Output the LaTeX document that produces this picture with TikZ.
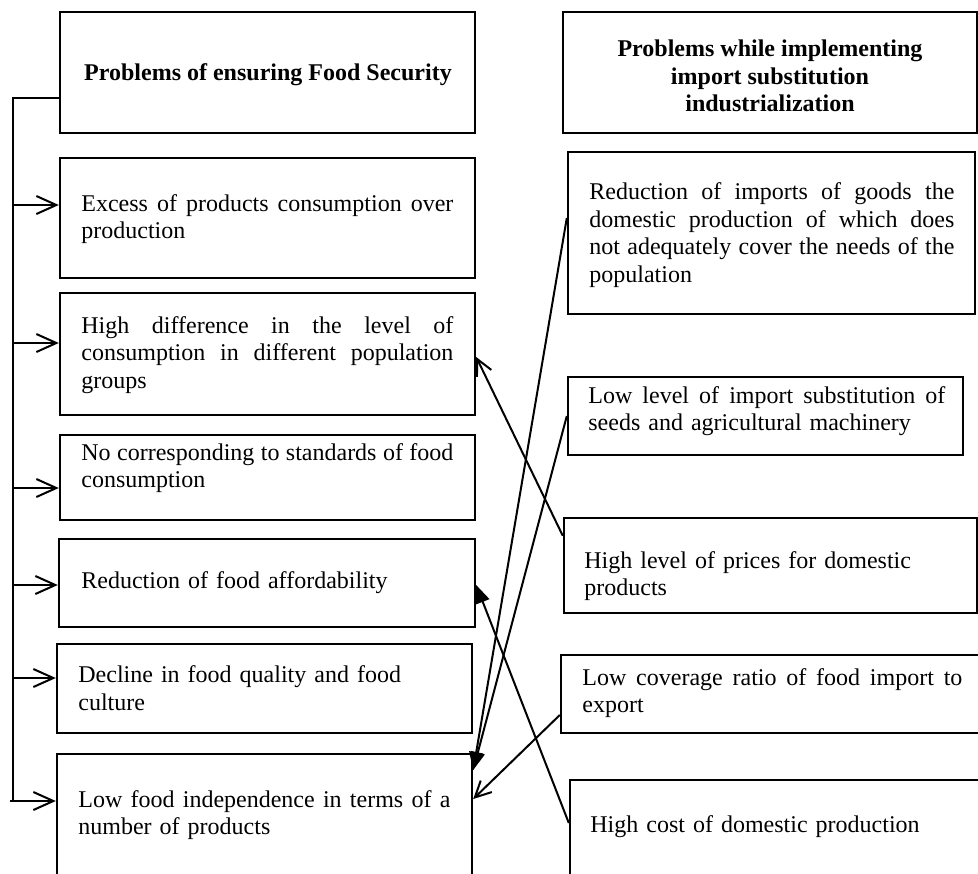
\documentclass[tikz,border=0pt]{standalone}
\usepackage{fontspec}
\setmainfont{Liberation Serif}
\usetikzlibrary{arrows.meta,calc}
\newcommand{\jl}[1]{\leavevmode\hbox to \hsize{\spaceskip=0.25em plus 1fil\relax #1}}
\begin{document}
\begin{tikzpicture}[x=0.5pt,y=-0.5pt,
  box/.style={draw, line width=1.2pt, inner sep=0pt},
  txt/.style={inner sep=0pt, align=left, anchor=west, font=\fontsize{12}{13.8}\selectfont},
  ttl/.style={inner sep=0pt, align=center, font=\fontsize{12}{13.8}\selectfont\bfseries},
  conn/.style={line width=1pt},
  spinearrow/.style={conn, -{Straight Barb[length=10pt,width=9pt]}},
  openarrow/.style={conn, -{Straight Barb[length=8pt,width=8pt]}},
  fillarrow/.style={conn, -{Triangle[length=9pt,width=7pt]}}]
\useasboundingbox (0,0) rectangle (978,873);
\fill[white] (0,0) rectangle (978,873);
\clip (0,0) rectangle (978,873);

% left column
\node[box, minimum width=207.5pt, minimum height=60.5pt] (TL) at (267.5,72.5) {};
\node[box, minimum width=207.5pt, minimum height=60pt] (B1) at (267.5,218) {};
\node[box, minimum width=207.5pt, minimum height=61pt] (B2) at (267.5,354) {};
\node[box, minimum width=207.5pt, minimum height=42.5pt] (B3) at (267.5,477.5) {};
\node[box, minimum width=208pt, minimum height=44pt] (B4) at (267,583) {};
\node[box, minimum width=207.5pt, minimum height=44.5pt] (B5) at (264.5,688.5) {};
\node[box, minimum width=207.5pt, minimum height=63pt] (B6) at (264.5,817) {};

\node[ttl] (TLt) at (268,75) {Problems of ensuring Food Security};
\node[txt, text width=186pt] (B1t) at (81,219) {\jl{Excess of products consumption over}\\production};
\node[txt, text width=186pt] (B2t) at (81,355) {\jl{High difference in the level of}\\\jl{consumption in different population}\\groups};
\node[txt, text width=186pt] (B3t) at (81,468) {\jl{No corresponding to standards of food}\\consumption};
\node[txt, text width=186pt] (B4t) at (81,583) {Reduction of food affordability};
\node[txt, text width=186pt] (B5t) at (78,688) {Decline in food quality and food\\culture};
\node[txt, text width=186pt] (B6t) at (78,815) {\jl{Low food independence in terms of a}\\number of products};

% right column
\node[box, minimum width=207pt, minimum height=60.5pt] (TR) at (770,72.5) {};
\node[box, minimum width=203.5pt, minimum height=81pt] (R1) at (771.5,233) {};
\node[box, minimum width=197.5pt, minimum height=39pt] (R2) at (765.5,416) {};
\node[box, minimum width=206.5pt, minimum height=47.5pt] (R3) at (770.5,565.5) {};
\node[box, minimum width=214.5pt, minimum height=39pt] (R4) at (775.5,694) {};
\node[box, minimum width=215pt, minimum height=55pt] (R5) at (785,835) {};

\node[ttl] (TRt) at (770,76) {Problems while implementing\\import substitution\\industrialization};
\node[txt, text width=182.5pt] (R1t) at (589,235) {\jl{Reduction of imports of goods the}\\\jl{domestic production of which does}\\\jl{not adequately cover the needs of the}\\population};
\node[txt, text width=178.5pt] (R2t) at (588,411) {\jl{Low level of import substitution of}\\seeds and agricultural machinery};
\node[txt, text width=186pt] (R3t) at (584,576) {High level of prices for domestic\\products};
\node[txt, text width=190pt] (R4t) at (582,693) {\jl{Low coverage ratio of food import to}\\export};
\node[txt, text width=200pt] (R5t) at (590,827) {High cost of domestic production};

% spine on the left
\coordinate (sTop) at (13,98);
\coordinate (sBot) at (13,801);
\coordinate (s1) at (13,205);
\coordinate (s2) at (13,343);
\coordinate (s3) at (13,488);
\coordinate (s4) at (13,585);
\coordinate (s5) at (13,678);
\coordinate (s6) at (10,801);
\draw[conn] (TL.west |- sTop) -- (sTop) -- (sBot);
\draw[spinearrow] (s1) -- (B1.west |- s1);
\draw[spinearrow] (s2) -- (B2.west |- s2);
\draw[spinearrow] (s3) -- (B3.west |- s3);
\draw[spinearrow] (s4) -- (B4.west |- s4);
\draw[spinearrow] (s5) -- (B5.west |- s5);
\draw[spinearrow] (s6) -- (B6.west |- s6);

% crossing connectors
\draw[openarrow] ($(R3.north west)+(0,19)$) -- ($(B2.east)+(0,3)$);
\draw[fillarrow] ($(R5.west)+(0,-12)$) -- ($(B4.east)+(0,2)$);
\draw[fillarrow] ($(R1.west)+(0,-15)$) -- ($(B6.east)+(0,-47)$);
\draw[fillarrow] (R2.west) -- ($(B6.east)+(0,-47)$);
\draw[openarrow] ($(R4.west)+(0,21)$) -- ($(B6.east)+(0,-18)$);
\end{tikzpicture}
\end{document}
